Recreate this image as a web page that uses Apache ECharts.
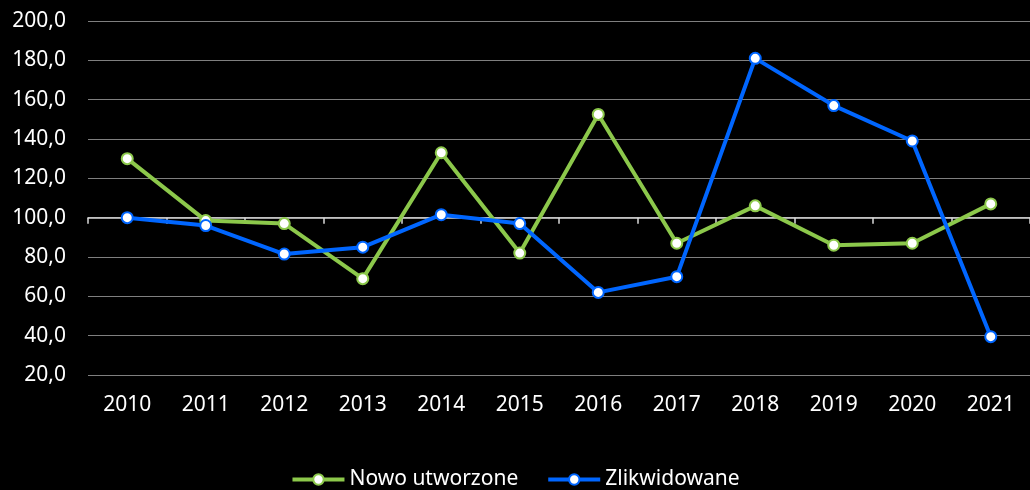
<!DOCTYPE html>
<html>
<head>
<meta charset="utf-8">
<script src="https://cdn.jsdelivr.net/npm/echarts@6/dist/echarts.min.js"></script>
<style>
  html, body { margin: 0; padding: 0; background: #000; }
  #chart { width: 1030px; height: 490px; }
</style>
</head>
<body>
<div id="chart"></div>
<script>
// dane
const years = ['2010','2011','2012','2013','2014','2015','2016','2017','2018','2019','2020','2021']
const nowoUtworzone = [130, 98.5, 97, 69, 133, 82, 152.5, 87, 106, 86, 87, 107]
const zlikwidowane = [100, 96, 81.5, 85, 101.5, 97, 62, 70, 181, 157, 139, 39.5]

const chart = echarts.init(document.getElementById('chart'))
const font = '"Noto Sans", sans-serif'

const option = {
  backgroundColor: '#000',
  textStyle: { fontFamily: font },
  animation: false,
  grid: { left: 88, right: 0, top: 21, bottom: 115, containLabel: false },
  legend: {
    bottom: -5,
    left: 'center',
    itemWidth: 52,
    itemHeight: 13,
    itemGap: 28,
    lineStyle: { width: 4 },
    textStyle: { color: '#fff', fontSize: 21, fontFamily: font },
    data: ['Nowo utworzone', 'Zlikwidowane']
  },
  xAxis: [
    {
      type: 'category',
      data: years,
      axisLine: { show: false },
      axisTick: { show: false },
      axisLabel: { color: '#fff', fontSize: 21, margin: 20 }
    },
    {
      // oś w punkcie 100
      type: 'category',
      data: years,
      position: 'bottom',
      offset: -157.3,
      axisLine: { show: true, lineStyle: { color: '#d9d9d9', width: 1.5 } },
      axisTick: { show: true, length: 6, lineStyle: { color: '#d9d9d9', width: 1.5 } },
      axisLabel: { show: false }
    }
  ],
  yAxis: {
    type: 'value',
    min: 20,
    max: 200,
    interval: 20,
    axisLine: { show: false },
    axisTick: { show: false },
    splitLine: { lineStyle: { color: '#7f7f7f', width: 1 } },
    axisLabel: {
      color: '#fff',
      fontSize: 21,
      margin: 22,
      formatter: v => v.toFixed(1).replace('.', ',')
    }
  },
  series: [
    {
      name: 'Nowo utworzone',
      type: 'line',
      data: nowoUtworzone,
      color: '#8cc84b',
      symbol: 'circle',
      symbolSize: 11,
      lineStyle: { width: 4, color: '#8cc84b' },
      itemStyle: { color: '#fff', borderColor: '#8cc84b', borderWidth: 2 }
    },
    {
      name: 'Zlikwidowane',
      type: 'line',
      data: zlikwidowane,
      color: '#0066ff',
      symbol: 'circle',
      symbolSize: 11,
      lineStyle: { width: 4, color: '#0066ff' },
      itemStyle: { color: '#fff', borderColor: '#0066ff', borderWidth: 2 }
    }
  ]
}

chart.setOption(option)
</script>
</body>
</html>
